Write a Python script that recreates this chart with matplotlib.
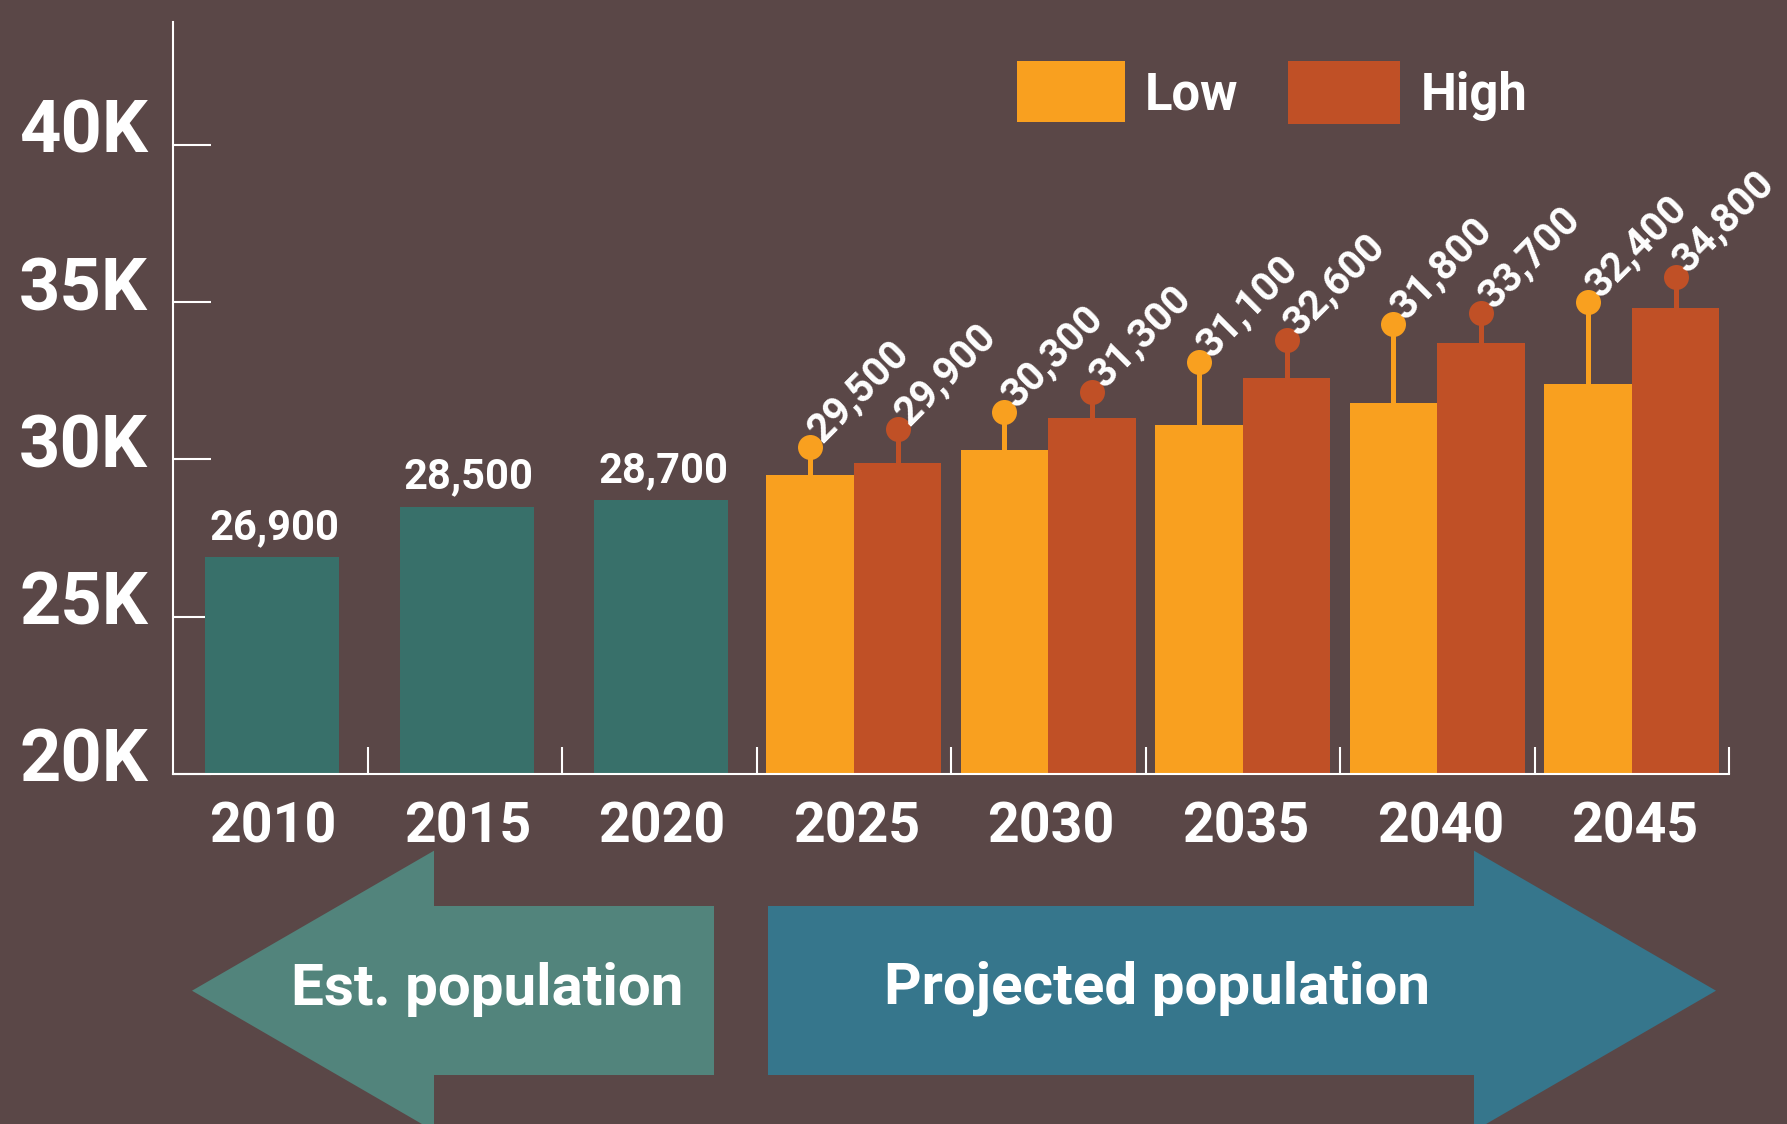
import matplotlib
matplotlib.use('Agg')
import matplotlib.pyplot as plt
import matplotlib.transforms as mtransforms
from matplotlib.patches import Polygon, Rectangle
import numpy as np

# ---------------- data ----------------
years = ['2010', '2015', '2020', '2025', '2030', '2035', '2040', '2045']
est_values = [26900, 28500, 28700]                 # 2010, 2015, 2020
low_values = [29500, 30300, 31100, 31800, 32400]   # 2025 .. 2045
high_values = [29900, 31300, 32600, 33700, 34800]  # 2025 .. 2045
# heights of the lollipop heads that carry the rotated labels
low_label_anchor = [30400, 31500, 33100, 34300, 35000]
high_label_anchor = [30950, 32150, 33800, 34650, 35800]
y_ticks = [20000, 25000, 30000, 35000, 40000]
y_tick_labels = ['20K', '25K', '30K', '35K', '40K']
legend_labels = ['Low', 'High']
arrow_labels = ['Est. population', 'Projected population']

# ---------------- style ----------------
W, H = 1787, 1124
BG = '#5A4747'
TEAL = '#38706A'
ORANGE = '#F9A01F'
RED = '#C05026'
EST_ARROW = '#52847C'
PROJ_ARROW = '#36768C'
WHITE = 'white'

plt.rcParams['font.family'] = ['Roboto', 'DejaVu Sans']
plt.rcParams['font.weight'] = 'bold'


def fx(px):
    return px / W


def fy(py):
    return 1 - py / H


fig = plt.figure(figsize=(W / 100, H / 100), dpi=100, facecolor=BG)
ax = fig.add_axes([fx(173), fy(774), (1729 - 173) / W, (774 - 22) / H])
ax.set_facecolor(BG)

x_all = np.arange(len(years))
est_x = x_all[:len(est_values)]
proj_x = x_all[len(est_values):]
off = 0.225
bw = 0.45

ax.bar(est_x + 0.01, est_values, width=0.69, color=TEAL, zorder=2)
ax.bar(proj_x - off, low_values, width=bw, color=ORANGE, zorder=2)
ax.bar(proj_x + off, high_values, width=bw, color=RED, zorder=2)

# lollipops
ax.vlines(proj_x - off, low_values, low_label_anchor, color=ORANGE, lw=3.6, zorder=2)
ax.vlines(proj_x + off, high_values, high_label_anchor, color=RED, lw=3.6, zorder=2)
ax.scatter(proj_x - off, low_label_anchor, s=18 ** 2, color=ORANGE, zorder=3,
           clip_on=False, linewidths=0)
ax.scatter(proj_x + off, high_label_anchor, s=18 ** 2, color=RED, zorder=3,
           clip_on=False, linewidths=0)

for xs, anchors, vals in [(proj_x - off, low_label_anchor, low_values),
                          (proj_x + off, high_label_anchor, high_values)]:
    for xi, a, v in zip(xs, anchors, vals):
        ax.annotate(f'{v:,}', xy=(xi, a), xytext=(9, 2), textcoords='offset points',
                    rotation=45, rotation_mode='anchor', ha='left', va='baseline',
                    fontsize=29, color=WHITE, fontweight='bold', annotation_clip=False)

for xi, v in zip(est_x, est_values):
    ax.annotate(f'{v:,}', xy=(xi + 0.02, v), xytext=(0, 13), textcoords='offset points',
                ha='center', va='baseline', fontsize=30, color=WHITE, fontweight='bold')

# axes
ax.set_xlim(-0.5, 7.5)
ax.set_ylim(20000, 43900)
for s in ['top', 'right']:
    ax.spines[s].set_visible(False)
for s in ['left', 'bottom']:
    ax.spines[s].set_color(WHITE)
    ax.spines[s].set_linewidth(1.5)
    ax.spines[s].set_zorder(4)

ax.set_yticks(y_ticks, y_tick_labels)
ax.tick_params(axis='y', direction='in', length=27.4, width=1.5, color=WHITE,
               labelcolor=WHITE, pad=18, labelsize=52)
ytrans = mtransforms.ScaledTranslation(0, 19 / 100, fig.dpi_scale_trans)
for lab in ax.get_yticklabels():
    lab.set_fontweight('bold')
    lab.set_transform(lab.get_transform() + ytrans)

ax.set_xticks(x_all, years)
ax.set_xticks(np.arange(0.5, len(years), 1.0), minor=True)
ax.tick_params(axis='x', which='major', length=0, pad=19.5, labelsize=40, labelcolor=WHITE)
ax.tick_params(axis='x', which='minor', direction='in', length=19.4, width=1.5, color=WHITE)
xtrans = mtransforms.ScaledTranslation(3 / 100, 0, fig.dpi_scale_trans)
for lab in ax.get_xticklabels():
    lab.set_fontweight('bold')
    lab.set_transform(lab.get_transform() + xtrans)

# legend
sw = [(1017, 61, 1125, 122, ORANGE), (1288, 61, 1400, 124, RED)]
for (x0, y0, x1, y1, c) in sw:
    fig.patches.append(Rectangle((fx(x0), fy(y1)), fx(x1) - fx(x0), fy(y0) - fy(y1),
                                 transform=fig.transFigure, color=c, lw=0))
fig.text(fx(1145), fy(110), legend_labels[0], color=WHITE, fontsize=36.5, fontweight='bold',
         ha='left', va='baseline')
fig.text(fx(1421), fy(110), legend_labels[1], color=WHITE, fontsize=36.5, fontweight='bold',
         ha='left', va='baseline')

# bottom arrows
left_arrow = [(192, 990.7), (434, 850.7), (434, 906), (714, 906), (714, 1075),
              (434, 1075), (434, 1131)]
right_arrow = [(768, 906), (1474, 906), (1474, 850.7), (1716, 990.7), (1474, 1131),
               (1474, 1075), (768, 1075)]
for pts, c in [(left_arrow, EST_ARROW), (right_arrow, PROJ_ARROW)]:
    fig.patches.append(Polygon([(fx(a), fy(b)) for a, b in pts], closed=True,
                               transform=fig.transFigure, color=c, lw=0))
fig.text(fx(487.5), fy(1005), arrow_labels[0], color=WHITE, fontsize=42, fontweight='bold',
         ha='center', va='baseline')
fig.text(fx(1157), fy(1003), arrow_labels[1], color=WHITE, fontsize=42, fontweight='bold',
         ha='center', va='baseline')

fig.savefig('out.png', dpi=100, facecolor=BG)
